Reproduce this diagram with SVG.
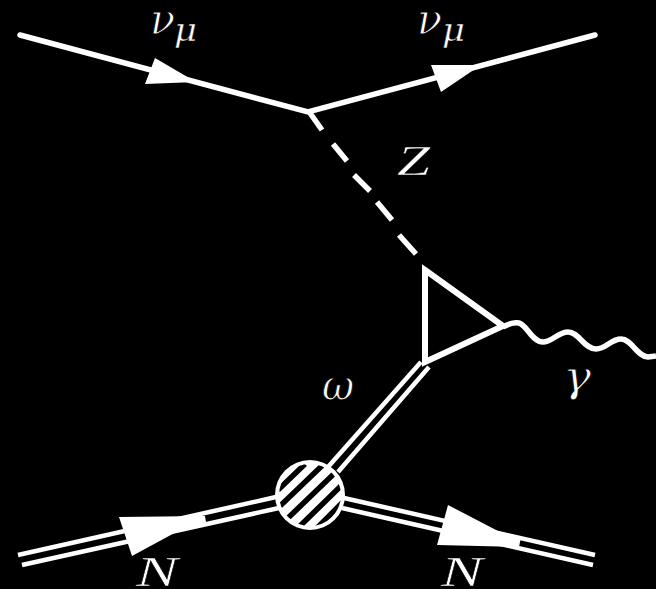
<svg xmlns="http://www.w3.org/2000/svg" width="656" height="589" viewBox="0 0 656 589">
<style>
.l{fill:none;stroke:#fff;stroke-width:5.5;stroke-linecap:round;stroke-linejoin:miter}
.d{fill:none;stroke:#fff;stroke-width:4.5;stroke-linecap:butt}
.a{fill:#fff}
.m{font-family:"Liberation Serif",serif;font-style:italic;fill:#fff;stroke:#000;stroke-width:.4}
.g{font-family:"DejaVu Serif",serif;font-style:italic;fill:#fff;stroke:#000;stroke-width:.9}
.big{font-size:42px}
.sub{font-size:32px;stroke-width:.4}
</style>
<defs>
<clipPath id="blobClip"><circle cx="310" cy="495" r="31"/></clipPath>
</defs>
<rect width="656" height="589" fill="#000"/>
<g id="connectors">
<path class="l" d="M20 35L308 112L595 35"/>
<polygon class="a" points="155,58 196,82 145,84"/>
<polygon class="a" points="431,65 481,65 441,92"/>
<g class="l" style="stroke-linecap:butt">
<path d="M310 113L322 130M333 144L347 161M354 175L370 191M377 202L392 220M399 235L416 254"/>
</g>
<path class="l" style="stroke-linecap:butt" d="M503 327C508 324 513 322 519 323C527 325 532 342 543 342C552 342 558 332 568 332C579 332 584 349 596 349C606 349 611 339 621 339C632 339 636 356 648 357L656 356"/>
<g id="omega-line">
<path class="d" d="M421 362L328 467M429 367L338 472"/>
</g>
<g id="nucleon-in">
<path class="d" d="M18 555L276 497M22 565L279 508"/>
<polygon class="a" points="119,517 205,516 206,522 180,530 132,556"/>
</g>
<g id="nucleon-out">
<path class="d" d="M344 498L595 555M342 508L593 565"/>
<polygon class="a" points="448,505 498,531 521,537 519,547 437,545"/>
</g>
</g>
<g id="triangle">
<path d="M425 270L503 326L425 362Z" fill="none" stroke="#fff" stroke-width="6" stroke-linejoin="miter"/>
</g>
<g id="blob">
<circle cx="310" cy="495" r="35" fill="#fff"/>
<g clip-path="url(#blobClip)" stroke="#000" stroke-width="5.5">
<path d="M278 490L305 464M280 506L328 460M288 518L340 468M300 526L345 482M315 530L345 500"/>
</g>
</g>
<g id="labels">
<text class="g big" x="150" y="34" textLength="25" lengthAdjust="spacingAndGlyphs">ν</text>
<text class="g sub" x="174" y="41" textLength="23" lengthAdjust="spacingAndGlyphs">μ</text>
<text class="g big" x="417" y="34" textLength="25" lengthAdjust="spacingAndGlyphs">ν</text>
<text class="g sub" x="442" y="41" textLength="23" lengthAdjust="spacingAndGlyphs">μ</text>
<text class="m big" x="397" y="175" textLength="33" lengthAdjust="spacingAndGlyphs">Z</text>
<text class="g big" x="322" y="400" textLength="32" lengthAdjust="spacingAndGlyphs">ω</text>
<text class="g big" x="563" y="391" textLength="28" lengthAdjust="spacingAndGlyphs">γ</text>
<text class="m big" x="136" y="586" textLength="42" lengthAdjust="spacingAndGlyphs">N</text>
<text class="m big" x="441" y="586" textLength="42" lengthAdjust="spacingAndGlyphs">N</text>
</g>
</svg>
